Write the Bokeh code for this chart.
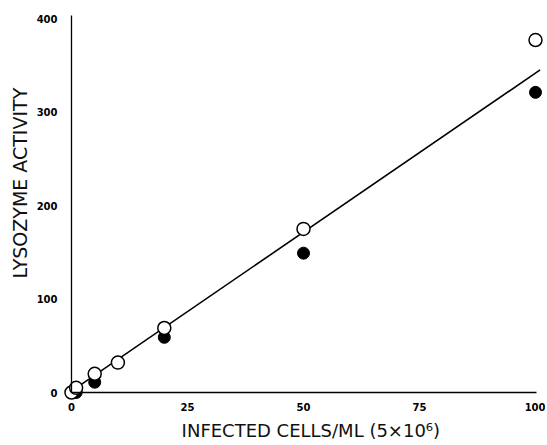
from math import pi
from bokeh.plotting import figure
from bokeh.models import Label, FixedTicker, Range1d
from bokeh.embed import file_html
from bokeh.resources import INLINE

# ---- data ----
conc_open = [0, 1, 5, 10, 20, 50, 100]
lys_open = [0, 5, 20, 32, 69, 175, 377]
conc_filled = [1, 5, 20, 50, 100]
lys_filled = [0, 11, 59, 149, 321]
fit_x = [0, 101]
fit_y = [1.5, 345]
x_ticks = [0, 25, 50, 75, 100]
y_ticks = [0, 100, 200, 300, 400]
x_title = "INFECTED CELLS/ML  (5×10⁶)"
y_title = "LYSOZYME ACTIVITY"

W, H = 545, 443
X0, XS = 71.0, 4.64      # pixel of x=0, px per unit
Y0, YS = 392.0, 0.935    # pixel of y=0 (from top), px per unit

p = figure(width=W, height=H,
           x_range=Range1d(-X0 / XS, (W - X0) / XS),
           y_range=Range1d(-(H - Y0) / YS, Y0 / YS),
           output_backend="svg", toolbar_location=None,
           min_border=0, outline_line_color=None)
p.grid.visible = False

for ax, ticks, bnds in ((p.xaxis, x_ticks, (0, 100.3)), (p.yaxis, y_ticks, (0, 403))):
    ax.fixed_location = 0
    ax.bounds = bnds
    ax.ticker = FixedTicker(ticks=ticks)
    ax.major_tick_line_color = None
    ax.minor_tick_line_color = None
    ax.axis_line_color = "black"
    ax.axis_line_width = 1.3
    ax.major_label_text_font = "DejaVu Sans"
    ax.major_label_text_font_style = "bold"
    ax.major_label_text_font_size = "10px"
    ax.major_label_text_color = "black"

p.xaxis.major_label_standoff = 4
p.yaxis.major_label_standoff = 8

p.line(fit_x, fit_y, line_color="black", line_width=1.6)
p.scatter(conc_filled, lys_filled, size=12, fill_color="black", line_color="black")
p.scatter(conc_open, lys_open, size=13, fill_color="white", line_color="black", line_width=1.5)

p.add_layout(Label(x=-11.0, y=224.0, text=y_title, angle=pi / 2,
                   text_align="center", text_baseline="middle",
                   text_font="DejaVu Sans", text_font_size="19px", text_color="#111111"))
p.add_layout(Label(x=52.2, y=-40.5, text=x_title,
                   text_align="center", text_baseline="middle",
                   text_font="DejaVu Sans", text_font_size="18px", text_color="#111111"))

open("out.html", "w").write(file_html(p, INLINE))
